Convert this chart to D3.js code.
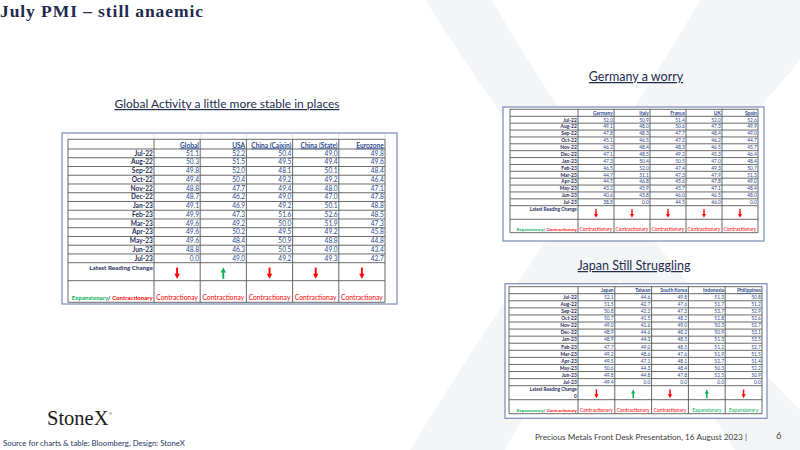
<!DOCTYPE html>
<html>
<head>
<meta charset="utf-8">
<script src="https://cdn.jsdelivr.net/npm/d3@7"></script>
<style>
  html, body { margin: 0; padding: 0; background: #fff; }
  svg { display: block; }
</style>
</head>
<body>
<svg id="slide" width="800" height="450"></svg>
<script>
// ---- data ----
const months = ["Jul-22","Aug-22","Sep-22","Oct-22","Nov-22","Dec-22","Jan-23","Feb-23","Mar-23","Apr-23","May-23","Jun-23","Jul-23"];

const globalCols = ["Global","USA","China (Caixin)","China (State)","Eurozone"];
const globalValues = [
  [51.1,50.3,49.8,49.4,48.8,48.7,49.1,49.9,49.6,49.6,49.6,48.8,0.0],
  [52.2,51.5,52.0,50.4,47.7,46.2,46.9,47.3,49.2,50.2,48.4,46.3,49.0],
  [50.4,49.5,48.1,49.2,49.4,49.0,49.2,51.6,50.0,49.5,50.9,50.5,49.2],
  [49.0,49.4,50.1,49.2,48.0,47.0,50.1,52.6,51.9,49.2,48.8,49.0,49.3],
  [49.8,49.6,48.4,46.4,47.1,47.8,48.8,48.5,47.3,45.8,44.8,43.4,42.7]
];
const globalChange = ["down","up","down","down","down"];
const globalStatus = ["Contractionay","Contractionay","Contractionay","Contractionay","Contractionay"];

const europeCols = ["Germany","Italy","France","UK","Spain"];
const europeValues = [
  [52.0,49.1,47.8,45.1,46.2,47.1,47.3,46.5,44.7,44.5,43.2,40.6,38.8],
  [50.9,48.0,48.3,46.5,48.4,48.5,50.4,52.0,51.1,46.8,45.9,43.8,0.0],
  [51.4,50.6,47.7,47.2,48.3,49.2,50.5,47.4,47.3,45.6,45.7,46.0,44.5],
  [52.0,47.3,48.4,46.2,46.5,45.3,47.0,49.3,47.9,47.8,47.1,46.5,46.0],
  [52.6,49.9,49.0,44.7,45.7,46.4,48.4,50.7,51.3,49.0,48.4,48.0,0.0]
];
const europeChange = ["down","down","down","down","down"];
const europeStatus = ["Contractionary","Contractionary","Contractionary","Contractionary","Contractionary"];

const asiaCols = ["Japan","Taiwan","South Korea","Indonesia","Philippines"];
const asiaValues = [
  [52.1,51.5,50.8,50.7,49.0,48.9,48.9,47.7,49.2,49.5,50.6,49.8,49.4],
  [44.6,42.7,42.2,41.5,41.6,44.6,44.3,49.0,48.6,47.1,44.3,44.8,0.0],
  [49.8,47.6,47.3,48.2,49.0,48.2,48.5,48.5,47.6,48.1,48.4,47.8,0.0],
  [51.3,51.7,53.7,51.8,50.3,50.9,51.3,51.2,51.9,52.7,50.3,52.5,0.0],
  [50.8,51.2,52.9,52.6,52.7,53.1,53.5,52.7,51.5,51.4,52.2,50.9,0.0]
];
const asiaChange = ["down","up","down","up","down"];
const asiaStatus = ["Contractionary","Contractionary","Contractionary","Expansionary","Expansionary"];

// ---- drawing ----
const svg = d3.select("#slide");
const NAVY = "#1f2d5a";
const VAL = "#2d4a8e";
const RED = "#ff0000";
const GREEN = "#00b050";
const fmt = d3.format(".1f");

// faint X watermark
const wm = svg.append("g").attr("fill", "#f4f5f7");
wm.append("path").attr("d", "M425,0 L492,0 C560,120 690,300 800,410 L800,450 L735,450 C640,300 520,150 425,0 Z");
wm.append("path").attr("d", "M700,0 L800,0 L800,60 C700,180 570,330 505,450 L410,450 C500,300 620,140 700,0 Z");

// title
svg.append("text")
  .attr("x", 0).attr("y", 17)
  .attr("font-family", "Liberation Serif, DejaVu Serif, serif")
  .attr("font-weight", "bold")
  .attr("font-size", 17.5)
  .attr("textLength", 203).attr("lengthAdjust", "spacing")
  .attr("fill", "#1f2a4f")
  .text("July PMI \u2013 still anaemic");

function subtitle(x, y, size, label) {
  svg.append("text")
    .attr("x", x).attr("y", y)
    .attr("text-anchor", "middle")
    .attr("font-family", "Lato, Open Sans, sans-serif")
    .attr("font-size", size)
    .attr("fill", "#1f2d4f")
    .style("text-decoration", "underline")
    .text(label);
}
subtitle(227, 108, 12, "Global Activity a little more stable in places");
subtitle(636, 81, 12.5, "Germany a worry");
subtitle(634, 270, 12.5, "Japan Still Struggling");

function arrow(g, cx, cy, len, dir) {
  const col = dir === "up" ? GREEN : RED;
  const h = len * 0.45, w = len * 0.24;
  const s = dir === "up" ? -1 : 1;
  const tip = cy + s * len / 2;
  const base = tip - s * h;
  g.append("line")
    .attr("x1", cx).attr("x2", cx)
    .attr("y1", cy - s * len / 2).attr("y2", base + s * 0.5)
    .attr("stroke", col).attr("stroke-width", len * 0.17);
  g.append("path")
    .attr("d", `M${cx - w},${base} L${cx + w},${base} L${cx},${tip} Z`)
    .attr("fill", col);
}

function drawTable(cols, values, change, status, L, extraZero) {
  const g = svg.append("g");
  const x = d3.scaleBand().domain(cols).range([L.labelRight, L.right]);
  const y = d3.scaleBand().domain(months).range([L.rowsTop, L.rowsBottom]);
  const fs = L.fs;

  // frame
  g.append("rect")
    .attr("x", L.frame[0]).attr("y", L.frame[1])
    .attr("width", L.frame[2]).attr("height", L.frame[3])
    .attr("fill", "#fff").attr("stroke", "#8593bb").attr("stroke-width", 1.3);

  // faint excel grid above header
  const vx = [L.left, L.labelRight].concat(cols.map(c => x(c) + x.bandwidth()));
  vx.forEach(v => g.append("line")
    .attr("x1", v).attr("x2", v).attr("y1", L.frame[1] + 1).attr("y2", L.headTop)
    .attr("stroke", "#d0d0d0").attr("stroke-width", 0.6));

  // horizontal lines
  const hy = [L.headTop, L.rowsTop].concat(months.map(m => y(m) + y.bandwidth()), [L.changeBottom, L.statusBottom]);
  hy.forEach(v => g.append("line")
    .attr("x1", L.left).attr("x2", L.right).attr("y1", v).attr("y2", v)
    .attr("stroke", "#444").attr("stroke-width", 0.8));
  // vertical lines
  vx.forEach(v => g.append("line")
    .attr("x1", v).attr("x2", v).attr("y1", L.headTop).attr("y2", L.statusBottom)
    .attr("stroke", "#555").attr("stroke-width", 0.9));

  const txt = (xx, yy, anchor, s, size) => g.append("text")
    .attr("x", xx).attr("y", yy).attr("text-anchor", anchor)
    .attr("font-family", "Lato, Open Sans, sans-serif").attr("font-size", size || fs).text(s);

  // header
  cols.forEach(c => txt(x(c) + x.bandwidth() - 1.2, L.rowsTop - 1.5, "end", c)
    .attr("fill", VAL).attr("font-weight", "bold").style("text-decoration", "underline"));

  // rows
  months.forEach((m, i) => {
    const by = y(m) + y.bandwidth() - (y.bandwidth() - fs * 0.72) / 2;
    txt(L.labelRight - 1.2, by, "end", m).attr("fill", NAVY).attr("font-weight", "bold");
    cols.forEach((c, j) => txt(x(c) + x.bandwidth() - 1.2, by, "end", fmt(values[j][i])).attr("fill", VAL));
  });

  // latest reading change
  const small = fs * 0.95;
  txt(L.labelRight - 1.2, L.rowsBottom + small + 0.8, "end", "Latest Reading Change", small)
    .attr("fill", NAVY).attr("font-weight", "bold");
  if (extraZero) txt(L.labelRight - 1.2, L.rowsBottom + 2 * small + 2.5, "end", "0", small)
    .attr("fill", NAVY).attr("font-weight", "bold");
  const ch = L.changeBottom - L.rowsBottom;
  const cy = L.changeBottom - ch * 0.42;
  const len = ch * 0.62;
  cols.forEach((c, j) => arrow(g, x(c) + x.bandwidth() / 2, cy, len, change[j]));

  // status row
  const sy = L.statusBottom - 2;
  const lab = txt(L.labelRight - 1.2, sy, "end", "", fs * 0.92).attr("font-weight", "bold");
  lab.append("tspan").attr("fill", GREEN).text("Expansionary");
  lab.append("tspan").attr("fill", NAVY).text("/ ");
  lab.append("tspan").attr("fill", RED).text("Contractionary");
  cols.forEach((c, j) => txt(x(c) + x.bandwidth() / 2, sy, "middle", status[j], fs * 1.02)
    .attr("fill", status[j].startsWith("Exp") ? GREEN : RED));
}

drawTable(globalCols, globalValues, globalChange, globalStatus, {
  frame: [62, 133, 335, 171], left: 68, labelRight: 154, right: 385,
  headTop: 139.3, rowsTop: 149, rowsBottom: 262.7, changeBottom: 280.7, statusBottom: 302.3, fs: 6.6
});
drawTable(europeCols, europeValues, europeChange, europeStatus, {
  frame: [503, 107, 261, 134], left: 510, labelRight: 578, right: 758,
  headTop: 109.3, rowsTop: 116.3, rowsBottom: 205.7, changeBottom: 219.3, statusBottom: 232.7, fs: 4.9
});
drawTable(asiaCols, asiaValues, asiaChange, asiaStatus, {
  frame: [505, 283.7, 262, 134.6], left: 509, labelRight: 578, right: 762,
  headTop: 286.7, rowsTop: 293.7, rowsBottom: 385.7, changeBottom: 399.7, statusBottom: 413.7, fs: 4.9
}, true);

// logo and footer
const logo = svg.append("text")
  .attr("x", 47).attr("y", 425)
  .attr("font-family", "Liberation Serif, DejaVu Serif, serif")
  .attr("font-size", 20.5).attr("fill", "#1a1a1a")
  .text("StoneX");
logo.append("tspan").attr("font-size", 5).attr("dy", -10).text("\u00ae");

svg.append("text")
  .attr("x", 3).attr("y", 446)
  .attr("font-family", "Lato, Open Sans, sans-serif")
  .attr("font-size", 7.8).attr("fill", "#1f3864")
  .text("Source for charts & table: Bloomberg, Design: StoneX");

svg.append("text")
  .attr("x", 535).attr("y", 440)
  .attr("font-family", "Lato, Open Sans, sans-serif")
  .attr("font-size", 8.2).attr("fill", "#404040")
  .text("Precious Metals Front Desk Presentation, 16 August 2023 |");

svg.append("text")
  .attr("x", 776).attr("y", 439)
  .attr("font-family", "Lato, Open Sans, sans-serif")
  .attr("font-size", 9.5).attr("fill", "#404040")
  .text("6");
</script>
</body>
</html>
